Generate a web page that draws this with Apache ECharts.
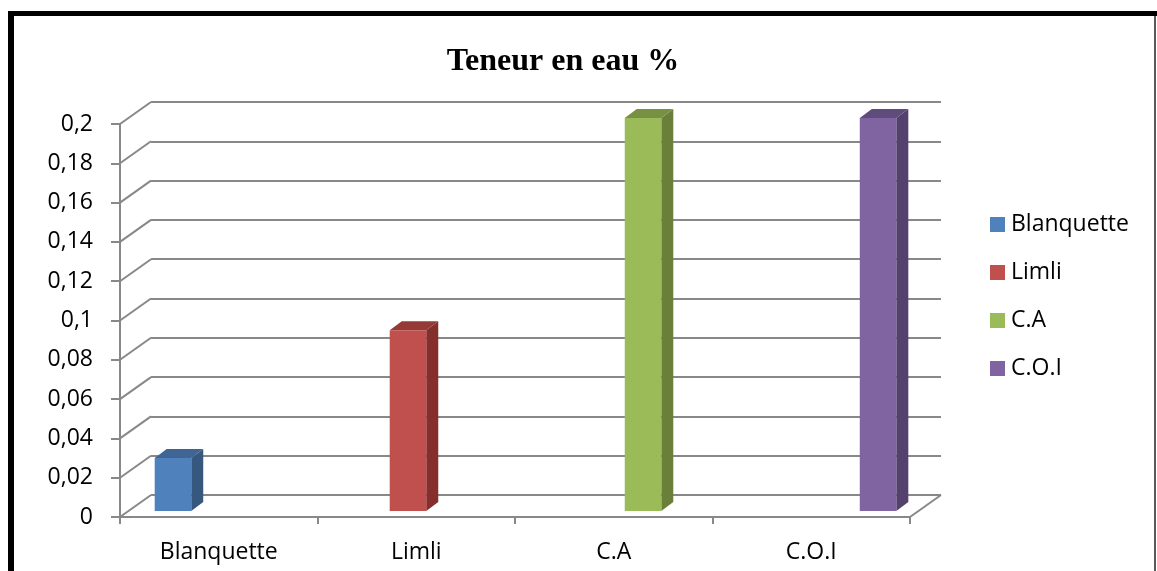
<!DOCTYPE html>
<html>
<head>
<meta charset="utf-8">
<script src="https://cdn.jsdelivr.net/npm/echarts@6/dist/echarts.min.js"></script>
<style>
html,body{margin:0;padding:0;background:#fff;}
#chart{width:1157px;height:571px;}
</style>
</head>
<body>
<div id="chart"></div>
<script>
// ---- data ----
const titleText = 'Teneur en eau %';
const categories = ['Blanquette', 'Limli', 'C.A', 'C.O.I'];
const values = [0.027, 0.092, 0.2, 0.2];
const yTicks = [0, 0.02, 0.04, 0.06, 0.08, 0.1, 0.12, 0.14, 0.16, 0.18, 0.2];

// ---- styles ----
const frontColors = ['#4F81BD', '#C0504D', '#9BBB59', '#8064A2'];
const sideColors  = ['#36587F', '#852F2D', '#6A803A', '#54416D'];
const topColors   = ['#3E6594', '#953A37', '#779143', '#604C7C'];
const gridColor = '#888888';
const FONT = '"Open Sans", sans-serif';
const DX = 31, DY = -22;       // depth of the 3D box
const BDX = 12, BDY = -9;      // depth of each bar
const BAR_SHIFT_X = 11, BAR_SHIFT_Y = -6;
const front = {left: 120, right: 247, top: 124, bottom: 54};

const fmt = v => String(+(+v).toFixed(2)).replace('.', ',');

const chart = echarts.init(document.getElementById('chart'), null, {renderer: 'canvas'});

function barRender(params, api) {
  const ci = api.value(0);
  const topPt = api.coord([ci, api.value(1)]);
  const basePt = api.coord([ci, 0]);
  const band = api.size([1, 0])[0];
  const bw = band * 0.185;
  const left = basePt[0] + (ci - 2) * band * 0.19 + BAR_SHIFT_X;
  const top = topPt[1] + BAR_SHIFT_Y;
  const bottom = basePt[1] + BAR_SHIFT_Y;
  return {
    type: 'group',
    children: [
      {type: 'polygon', shape: {points: [[left + bw, top], [left + bw + BDX, top + BDY], [left + bw + BDX, bottom + BDY], [left + bw, bottom]]},
        style: {fill: sideColors[ci]}},
      {type: 'polygon', shape: {points: [[left, top], [left + BDX, top + BDY], [left + bw + BDX, top + BDY], [left + bw, top]]},
        style: {fill: topColors[ci]}},
      {type: 'rect', shape: {x: left, y: top, width: bw, height: bottom - top},
        style: {fill: frontColors[ci]}}
    ]
  };
}

function diagRender(params, api) {
  const cs = params.coordSys;
  const v = api.value(1);
  const p = api.coord([0, v]);
  const children = [
    {type: 'line', shape: {x1: cs.x, y1: p[1], x2: cs.x + DX, y2: p[1] + DY},
      style: {stroke: gridColor, lineWidth: 2}}
  ];
  if (v === 0) {
    children.push({type: 'line', shape: {x1: cs.x + cs.width, y1: p[1], x2: cs.x + cs.width + DX, y2: p[1] + DY},
      style: {stroke: gridColor, lineWidth: 2}});
  }
  return {type: 'group', children: children};
}

const barSeries = categories.map((name, i) => ({
  name: name,
  type: 'custom',
  xAxisIndex: 0, yAxisIndex: 0,
  itemStyle: {color: frontColors[i]},
  renderItem: barRender,
  data: [[i, values[i]]],
  z: 10,
  clip: false
}));

const option = {
  backgroundColor: '#ffffff',
  animation: false,
  title: {
    text: titleText,
    left: 558, textAlign: 'center', top: 41,
    textStyle: {fontFamily: '"Liberation Serif", "Times New Roman", serif', fontWeight: 'bold', fontSize: 32, color: '#000'}
  },
  legend: {
    orient: 'vertical',
    left: 985, top: 208,
    itemWidth: 15, itemHeight: 15, itemGap: 25,
    icon: 'rect',
    data: categories,
    textStyle: {fontFamily: FONT, fontSize: 23, color: '#000', lineHeight: 22, padding: [0, 0, 0, 1]}
  },
  grid: [
    {left: front.left, right: front.right, top: front.top, bottom: front.bottom},
    {left: front.left + DX, right: front.right - DX, top: front.top + DY, bottom: front.bottom - DY}
  ],
  xAxis: [
    {type: 'category', gridIndex: 0, data: categories, boundaryGap: true,
      axisLine: {lineStyle: {color: gridColor, width: 2}},
      axisTick: {show: true, length: 7, lineStyle: {color: gridColor, width: 2}},
      axisLabel: {fontFamily: FONT, fontSize: 23, color: '#000', margin: 24, interval: 0}},
    {type: 'category', gridIndex: 1, data: categories, show: false}
  ],
  yAxis: [
    {type: 'value', gridIndex: 0, min: 0, max: 0.2, interval: 0.02,
      axisLine: {show: true, lineStyle: {color: gridColor, width: 2}},
      axisTick: {show: true, length: 9, lineStyle: {color: gridColor, width: 2}},
      splitLine: {show: false},
      axisLabel: {fontFamily: FONT, fontSize: 23, color: '#000', margin: 27, formatter: fmt}},
    {type: 'value', gridIndex: 1, min: 0, max: 0.2, interval: 0.02,
      axisLine: {show: false}, axisTick: {show: false}, axisLabel: {show: false},
      splitLine: {show: true, lineStyle: {color: gridColor, width: 2}}}
  ],
  graphic: [
    {type: 'rect', shape: {x: 8, y: 11, width: 1149, height: 5}, style: {fill: '#000'}, z: 100},
    {type: 'rect', shape: {x: 8, y: 11, width: 6, height: 560}, style: {fill: '#000'}, z: 100},
    {type: 'rect', shape: {x: 1154, y: 16, width: 2, height: 555}, style: {fill: '#5a5a5a'}, z: 100}
  ],
  series: [
    {type: 'custom', xAxisIndex: 0, yAxisIndex: 0, renderItem: diagRender,
      data: yTicks.map(v => [0, v]), z: 1, silent: true, clip: false, legendHoverLink: false}
  ].concat(barSeries)
};

chart.setOption(option);
</script>
</body>
</html>
